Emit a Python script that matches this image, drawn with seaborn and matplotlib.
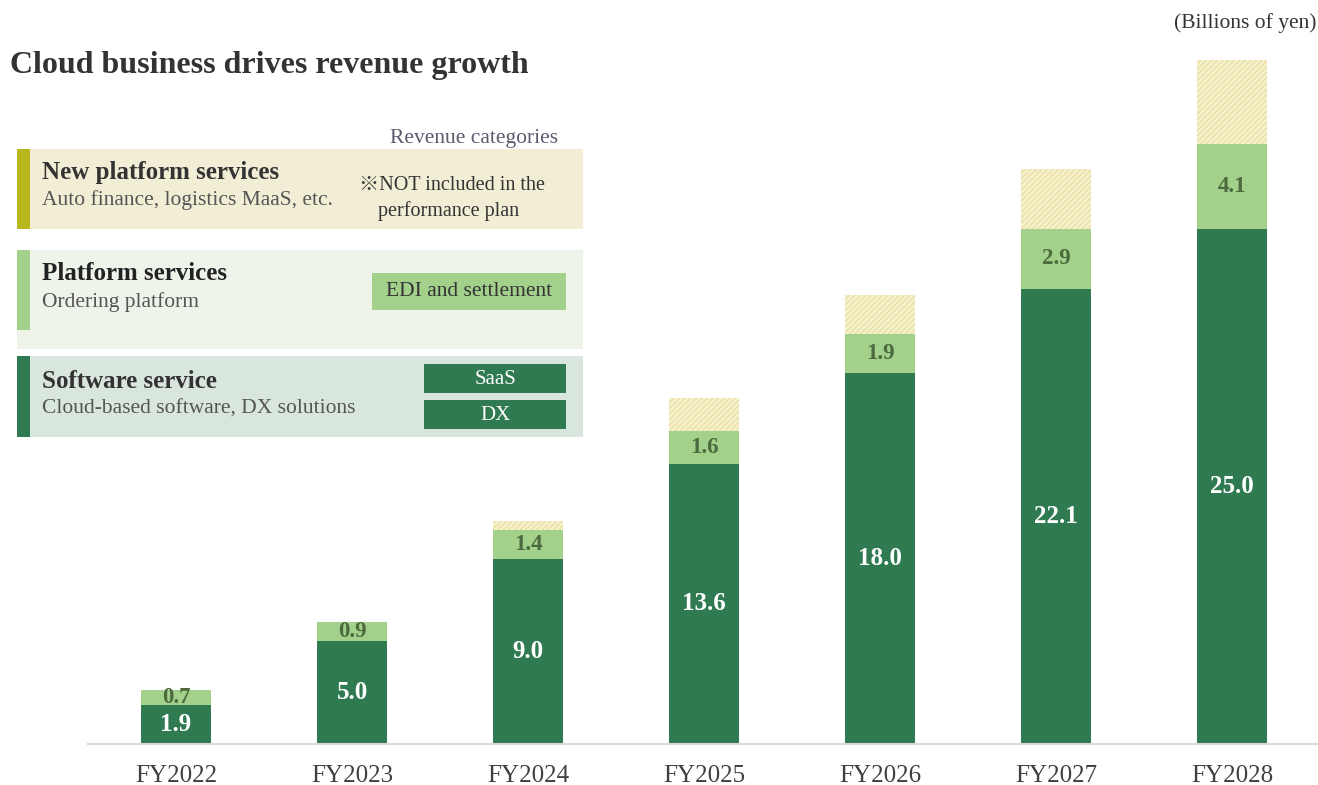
import matplotlib
matplotlib.use("Agg")
import matplotlib.pyplot as plt
from matplotlib.patches import Rectangle
import pandas as pd
import seaborn as sns

# Revenue by category (billions of yen)
years = ["FY2022", "FY2023", "FY2024", "FY2025", "FY2026", "FY2027", "FY2028"]
software = [1.9, 5.0, 9.0, 13.6, 18.0, 22.1, 25.0]
platform = [0.7, 0.9, 1.4, 1.6, 1.9, 2.9, 4.1]
new_platform = [0.0, 0.0, 0.4, 1.6, 1.9, 2.9, 4.1]

DARK = "#2f7a50"
LIGHT = "#a3d18b"
PALE = "#f5f0c9"
HATCH = "#e2d992"
OLIVE = "#b7b61c"

sns.set_theme(style="white")
plt.rcParams["font.family"] = ["Liberation Serif", "Noto Sans CJK JP", "DejaVu Sans"]
plt.rcParams["hatch.linewidth"] = 0.6

W, H = 1318, 785
fig = plt.figure(figsize=(W / 100, H / 100), dpi=100)
ax = fig.add_axes([88 / W, 41 / H, 1232 / W, 744 / H])
ax.set_facecolor("none")

df = pd.DataFrame({"year": years, "software": software,
                   "platform": platform, "new": new_platform})
base_new = [s + p for s, p in zip(software, platform)]

sns.barplot(data=df, x="year", y="software", order=years, color=DARK,
            saturation=1, width=0.4, errorbar=None, linewidth=0, ax=ax)
sns.barplot(data=df, x="year", y="platform", order=years, color=LIGHT,
            saturation=1, width=0.4, errorbar=None, linewidth=0,
            bottom=software, ax=ax)
sns.barplot(data=df, x="year", y="new", order=years, color=PALE,
            saturation=1, width=0.4, errorbar=None, linewidth=0,
            bottom=base_new, hatch="//////", edgecolor=HATCH, ax=ax)
for bar in ax.containers[2]:
    bar.set_facecolor(PALE)

ax.bar_label(ax.containers[0], labels=[f"{v:.1f}" for v in software],
             label_type="center", color="white", fontsize=18,
             fontweight="bold")
ax.bar_label(ax.containers[1], labels=[f"{v:.1f}" for v in platform],
             label_type="center", color="#4c6a3e", fontsize=16.5,
             fontweight="bold")

ax.set_xlim(-0.5, 6.5)
ax.set_ylim(0, 36.1)
ax.set_xlabel("")
ax.set_ylabel("")
ax.set_yticks([])
ax.tick_params(axis="x", length=0, pad=15, labelsize=18, labelcolor="#404040")
for side in ["left", "right", "top"]:
    ax.spines[side].set_visible(False)
ax.spines["bottom"].set_color("#d9d9d9")
ax.spines["bottom"].set_linewidth(1.5)


def fx(x):
    return x / W


def fy(y):
    return 1 - y / H


def box(x0, y0, x1, y1, color):
    fig.add_artist(Rectangle((fx(x0), fy(y1)), fx(x1) - fx(x0), fy(y0) - fy(y1),
                             transform=fig.transFigure, facecolor=color,
                             edgecolor="none", zorder=0.5))


def txt(x, y, s, **kw):
    fig.text(fx(x), fy(y + 2), s, va="center", zorder=3, **kw)


# Title and unit
txt(10, 64, "Cloud business drives revenue growth", fontsize=23,
    fontweight="bold", color="#333333")
txt(1316, 21, "(Billions of yen)", fontsize=15.5, color="#333333", ha="right")

# Revenue category key
txt(558, 137, "Revenue categories", fontsize=15.5, color="#5b5b6e", ha="right")

box(17, 149, 583, 229, "#f2eed6")
box(17, 149, 30, 229, OLIVE)
txt(42, 170, "New platform services", fontsize=18, fontweight="bold", color="#333333")
txt(42, 198, "Auto finance, logistics MaaS, etc.", fontsize=15.5, color="#555555")
txt(359, 183, "※NOT included in the", fontsize=14.5, color="#333333")
txt(378, 209, "performance plan", fontsize=14.5, color="#333333")

box(17, 250, 583, 349, "#eef4ea")
box(17, 250, 30, 330, LIGHT)
txt(42, 272, "Platform services", fontsize=18, fontweight="bold", color="#222222")
txt(42, 300, "Ordering platform", fontsize=15.5, color="#555555")
box(372, 273, 566, 310, LIGHT)
txt(469, 290, "EDI and settlement", fontsize=15.5, color="#333333", ha="center")

box(17, 356, 583, 437, "#d9e6dd")
box(17, 356, 30, 437, DARK)
txt(42, 380, "Software service", fontsize=18, fontweight="bold", color="#333333")
txt(42, 407, "Cloud-based software, DX solutions", fontsize=15.5, color="#555555")
box(424, 364, 566, 393, DARK)
txt(495, 377, "SaaS", fontsize=15, color="white", ha="center")
box(424, 400, 566, 429, DARK)
txt(495, 413, "DX", fontsize=15, color="white", ha="center")

fig.savefig("out.png", dpi=100, facecolor="white")
